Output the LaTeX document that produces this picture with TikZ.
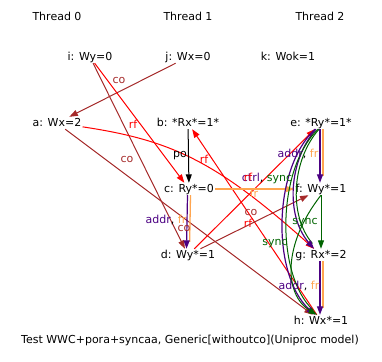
\documentclass[tikz,border=0pt]{standalone}
\usepackage{fontspec}
\setmainfont{DejaVu Sans}
\usetikzlibrary{arrows.meta}
\definecolor{cocol}{HTML}{A52A2A}
\definecolor{rfcol}{HTML}{FF0000}
\definecolor{frcol}{HTML}{FFA54F}
\definecolor{addrcol}{HTML}{4B0082}
\definecolor{synccol}{HTML}{006400}

\begin{document}
\begin{tikzpicture}[
  x=1pt, y=-1pt,
  font=\fontsize{11}{13}\selectfont,
  ev/.style={inner sep=1pt, text height=8pt, text depth=2pt},
  lbl/.style={inner sep=0pt, text height=8pt, text depth=2pt},
  tip/.style={-{Triangle[length=8.5pt,width=6pt]}},
  co/.style={tip, draw=cocol, line width=1pt},
  rf/.style={tip, draw=rfcol, line width=1pt},
  fr/.style={tip, draw=frcol, line width=1.3pt},
  po/.style={tip, draw=black, line width=1pt},
  sync/.style={tip, draw=synccol, line width=1pt},
  addr/.style={tip, draw=addrcol, line width=1.2pt},
  twin/.style={line width=1.3pt, shorten >=7pt}
]
\useasboundingbox (0,0) rectangle (382,361);
% threads
\node[ev] (t0) at (57,18)  {Thread 0};
\node[ev] (t1) at (188,18) {Thread 1};
\node[ev] (t2) at (320,18) {Thread 2};
% events
\node[ev] (i) at (90,57)   {i: Wy=0};
\node[ev] (j) at (188,57)  {j: Wx=0};
\node[ev] (k) at (288,57)  {k: Wok=1};
\node[ev] (a) at (57,123)  {a: Wx=2};
\node[ev] (b) at (188,123) {b: *Rx*=1*};
\node[ev] (e) at (321,123) {e: *Ry*=1*};
\node[ev] (c) at (189,189) {c: Ry*=0};
\node[ev] (f) at (321,189) {f: Wy*=1};
\node[ev] (d) at (188,255) {d: Wy*=1};
\node[ev] (g) at (321,255) {g: Rx*=2};
\node[ev] (h) at (321,321) {h: Wx*=1};
\node[ev] (cap) at (190,340) {Test WWC+pora+syncaa, Generic[withoutco](Uniproc model)};
% co and rf
\draw[co] (j) -- (a);
\draw[co] (i) -- (d);
\draw[rf] (i) -- (c);
\draw[co] (a) -- (h);
\draw[rf] (a) .. controls (170,140) and (215,160) .. (g);
\draw[rf] (h) -- (b);
\draw[rf] (d) -- (e);
\draw[co] (d) -- (f);
% po, fr
\draw[po] (b) -- (c);
\draw[fr] (c) -- (f);
% addr + fr
\draw[twin, draw=frcol] ([xshift=1.5pt]c.south) -- ([xshift=1.5pt]d.north);
\draw[addr] ([xshift=-1.5pt]c.south) -- ([xshift=-1.5pt]d.north);
\draw[twin, draw=frcol] ([xshift=2pt]e.south) -- ([xshift=2pt]f.north);
\draw[addr] ([xshift=-1pt]e.south) -- ([xshift=-1pt]f.north);
\draw[twin, draw=frcol] ([xshift=2pt]g.south) -- ([xshift=2pt]h.north);
\draw[addr] ([xshift=-1pt]g.south) -- ([xshift=-1pt]h.north);
% ctrl + sync
\draw[twin, draw=synccol, line width=1pt] ([xshift=-2pt]e.south) .. controls (292,160) and (288,215) .. ([xshift=-4pt]g.north);
\draw[addr] ([xshift=-5pt]e.south) .. controls (289,160) and (285,215) .. ([xshift=-7pt]g.north);
\draw[twin, draw=synccol, line width=1pt] ([xshift=-3pt]e.south) .. controls (276,170) and (276,275) .. ([xshift=-3pt]h.north);
\draw[addr] ([xshift=-6pt]e.south) .. controls (272,170) and (272,275) .. ([xshift=-6pt]h.north);
% sync
\draw[sync] (f) -- (g);
\draw[sync] (f.south) .. controls (282,245) and (284,295) .. ([xshift=-4pt]h.north);
% labels
\node[lbl, text=cocol] (l1) at (119,80)  {co};
\node[lbl, text=rfcol] (l2) at (133,125) {rf};
\node[lbl, text=cocol] (l3) at (127,159) {co};
\node[lbl]             (l4) at (180,154) {po};
\node[lbl]             (l5) at (166,220) {\textcolor{addrcol}{addr}, \textcolor{frcol}{fr}};
\node[lbl, text=cocol] (l6) at (184,228) {co};
\node[lbl, text=rfcol] (l7) at (204,160) {rf};
\node[lbl]             (l8) at (267,178) {\textcolor{addrcol}{ctrl}, \textcolor{synccol}{sync}};
\node[lbl, text=rfcol] (l9) at (248,178) {rf};
\node[lbl, text=frcol] (l10) at (254,194) {fr};
\node[lbl, text=cocol] (l11) at (251,212) {co};
\node[lbl, text=rfcol] (l12) at (248,224) {rf};
\node[lbl]             (l13) at (298,154) {\textcolor{addrcol}{addr}, \textcolor{frcol}{fr}};
\node[lbl, text=synccol] (l14) at (305,221) {sync};
\node[lbl, text=synccol] (l15) at (275,242) {sync};
\node[lbl]             (l16) at (299,286) {\textcolor{addrcol}{addr}, \textcolor{frcol}{fr}};
\end{tikzpicture}
\end{document}
